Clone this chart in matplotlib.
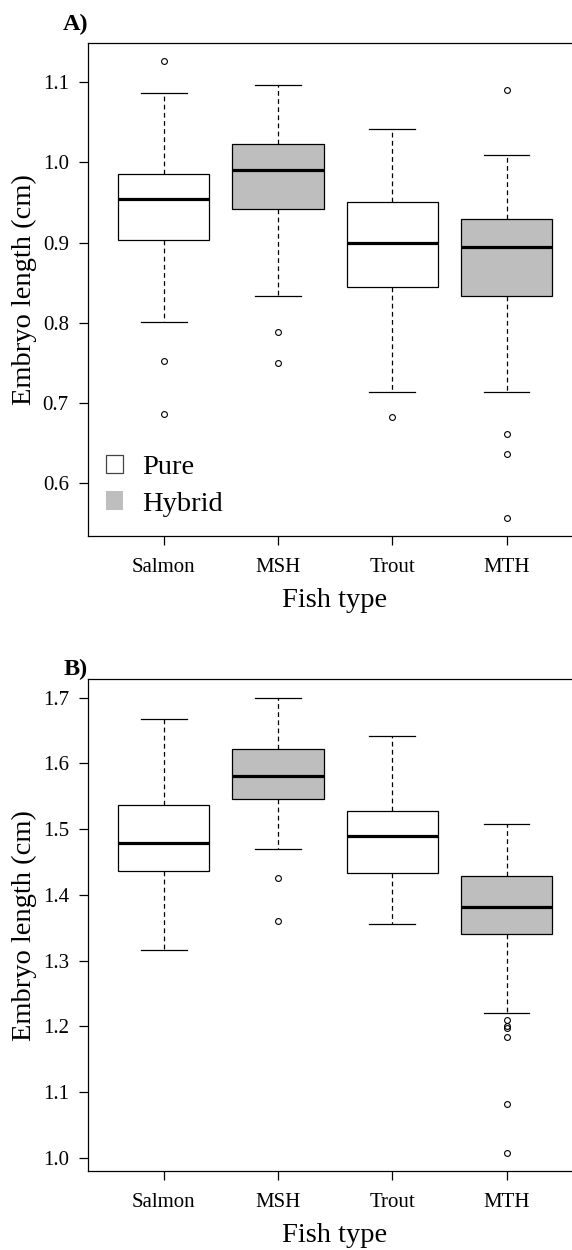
import numpy as np
import matplotlib
matplotlib.use("Agg")
import matplotlib.pyplot as plt
from matplotlib.patches import Patch

plt.rcParams['font.family'] = ['Liberation Serif', 'DejaVu Serif']

# fish types and which are hybrids
fish_types = ['Salmon', 'MSH', 'Trout', 'MTH']
is_hybrid = [False, True, False, True]

# panel A: box summaries (cm)
a_whislo = [0.801, 0.833, 0.714, 0.714]
a_q1 = [0.903, 0.942, 0.845, 0.833]
a_med = [0.954, 0.991, 0.899, 0.895]
a_q3 = [0.986, 1.023, 0.951, 0.930]
a_whishi = [1.086, 1.097, 1.042, 1.009]
a_fliers = [[1.126, 0.752, 0.686],
            [0.788, 0.750],
            [0.683],
            [1.090, 0.662, 0.636, 0.557]]

# panel B
b_whislo = [1.316, 1.469, 1.355, 1.221]
b_q1 = [1.437, 1.545, 1.433, 1.341]
b_med = [1.479, 1.580, 1.489, 1.381]
b_q3 = [1.536, 1.621, 1.528, 1.428]
b_whishi = [1.667, 1.700, 1.641, 1.507]
b_fliers = [[],
            [1.426, 1.361],
            [],
            [1.210, 1.201, 1.198, 1.184, 1.082, 1.008]]

a_ticks = [0.6, 0.7, 0.8, 0.9, 1.0, 1.1]
b_ticks = [1.0, 1.1, 1.2, 1.3, 1.4, 1.5, 1.6, 1.7]

pure_col = 'white'
hyb_col = '#bebebe'

W, H = 572, 1250
fig = plt.figure(figsize=(W / 100, H / 100), dpi=100)


def px_axes(top, bottom, left=88.3, right=582):
    return fig.add_axes([left / W, 1 - bottom / H, (right - left) / W, (bottom - top) / H])


def draw_panel(ax, whislo, q1, med, q3, whishi, fliers, ticks):
    stats = []
    for i in range(len(fish_types)):
        stats.append(dict(whislo=whislo[i], q1=q1[i], med=med[i], q3=q3[i],
                          whishi=whishi[i], fliers=fliers[i]))
    bp = ax.bxp(stats, positions=range(1, 5), widths=0.8, capwidths=0.4,
                patch_artist=True, manage_ticks=False,
                boxprops=dict(edgecolor='black', linewidth=0.9),
                medianprops=dict(color='black', linewidth=2.3, solid_capstyle='butt'),
                whiskerprops=dict(color='black', linewidth=0.9, linestyle=(0, (3.8, 2.7))),
                capprops=dict(color='black', linewidth=0.9),
                flierprops=dict(marker='o', markersize=4.2, markerfacecolor='none',
                                markeredgecolor='black', markeredgewidth=0.8))
    for box, hyb in zip(bp['boxes'], is_hybrid):
        box.set_facecolor(hyb_col if hyb else pure_col)

    # R-style 4% padding around the data
    allv = np.concatenate([whislo, whishi] + [np.array(f, dtype=float) for f in fliers])
    lo, hi = allv.min(), allv.max()
    pad = 0.04 * (hi - lo)
    ax.set_ylim(lo - pad, hi + pad)
    ax.set_xlim(0.34, 4.66)
    ax.set_xticks(range(1, 5))
    ax.set_xticklabels(fish_types, fontsize=15)
    ax.set_yticks(ticks)
    ax.set_yticklabels(['%.1f' % t for t in ticks], fontsize=15)
    ax.tick_params(axis='both', length=6.5, width=0.9, direction='out')
    ax.tick_params(axis='x', pad=9)
    ax.tick_params(axis='y', pad=7.5)
    ax.spines['right'].set_visible(False)
    for s in ['left', 'bottom', 'top']:
        ax.spines[s].set_linewidth(0.9)


axA = px_axes(43, 536)
draw_panel(axA, a_whislo, a_q1, a_med, a_q3, a_whishi, a_fliers, a_ticks)
axB = px_axes(679.3, 1171)
draw_panel(axB, b_whislo, b_q1, b_med, b_q3, b_whishi, b_fliers, b_ticks)

# labels
for top, bottom, tag, tag_y in [(43, 536, 'A)', 30), (679.3, 1171, 'B)', 675.5)]:
    fig.text(24.6 / W, 1 - (top + bottom) / 2 / H, 'Embryo length (cm)', rotation=90,
             ha='center', va='center', fontsize=20.5)
    fig.text(335 / W, 1 - (bottom + 70.7) / H, 'Fish type', ha='center', va='baseline',
             fontsize=20.5)
    fig.text(88 / W, 1 - tag_y / H, tag, ha='right', va='baseline', fontsize=17.5,
             fontweight='bold')

handles = [Patch(facecolor=pure_col, edgecolor='#444444', linewidth=0.9),
           Patch(facecolor=hyb_col, edgecolor='none')]
axA.legend(handles, ['Pure', 'Hybrid'], loc='upper left',
           bbox_to_anchor=(105.7 / W, 1 - 455 / H), bbox_transform=fig.transFigure,
           frameon=False, fontsize=20.5, borderpad=0, borderaxespad=0,
           handlelength=0.6, handleheight=0.6, handletextpad=0.67, labelspacing=0.4)

fig.savefig('out.png', dpi=100)
